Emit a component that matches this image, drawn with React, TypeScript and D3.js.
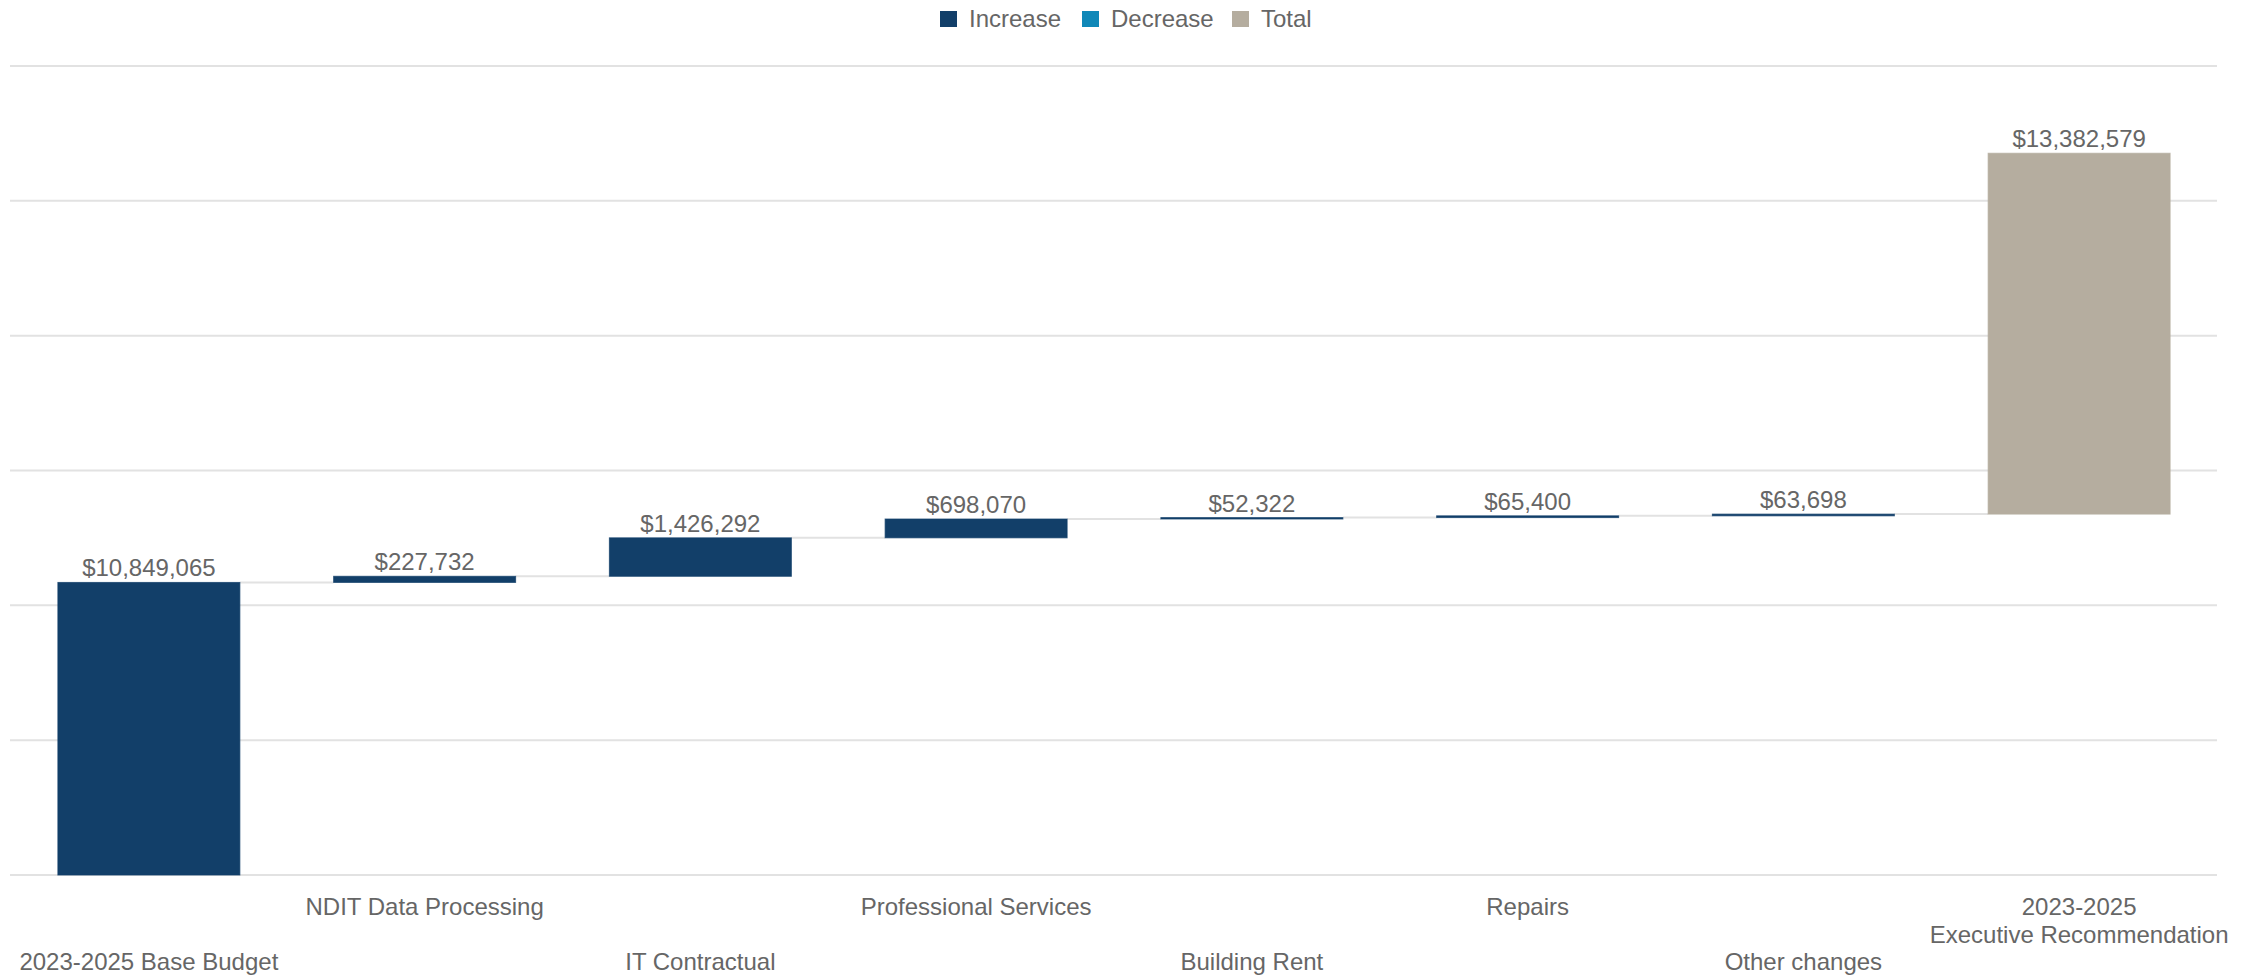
import React from "react";
import * as d3 from "d3";

const categories = [
  "2023-2025 Base Budget",
  "NDIT Data Processing",
  "IT Contractual",
  "Professional Services",
  "Building Rent",
  "Repairs",
  "Other changes",
  "2023-2025\nExecutive Recommendation",
];
const values = [10849065, 227732, 1426292, 698070, 52322, 65400, 63698, 13382579];
const kinds = ["increase", "increase", "increase", "increase", "increase", "increase", "increase", "total"];
const yTicks = [0, 5000000, 10000000, 15000000, 20000000, 25000000, 30000000];
const legendItems = ["Increase", "Decrease", "Total"];

const COLORS: Record<string, string> = {
  increase: "#123f69",
  decrease: "#1088b8",
  total: "#b5ad9f",
};
const legendColors = [COLORS.increase, COLORS.decrease, COLORS.total];

const W = 2262;
const H = 977;
const FONT = "'Liberation Sans', Arial, sans-serif";
const TEXT = "#666666";

export default function App() {
  const x = d3
    .scaleBand<string>()
    .domain(categories)
    .range([11, 2217])
    .paddingInner(0.34)
    .paddingOuter(0.17);
  const y = d3.scaleLinear().domain([0, 30000000]).range([875, 66]);
  const fmt = (v: number) => "$" + d3.format(",")(v);

  let cum = 0;
  const bars = categories.map((c, i) => {
    const start = cum;
    const end = cum + values[i];
    cum = end;
    return { c, i, start, end, v: values[i], kind: kinds[i] };
  });

  const legendX = [940, 1082, 1232];

  return (
    <svg
      width={W}
      height={H}
      style={{ position: "absolute", left: 0, top: 0, background: "#fff" }}
      fontFamily={FONT}
    >
      {yTicks.map((t) => (
        <line key={t} x1={10} x2={2217} y1={y(t)} y2={y(t)} stroke="#e2e2e2" strokeWidth={2} />
      ))}
      {bars.slice(0, -1).map((b) => {
        const next = categories[b.i + 1];
        return (
          <line
            key={"c" + b.i}
            x1={(x(b.c) as number) + x.bandwidth()}
            x2={x(next) as number}
            y1={y(b.end)}
            y2={y(b.end)}
            stroke="#e2e2e2"
            strokeWidth={2}
          />
        );
      })}
      {bars.map((b) => {
        const y0 = y(b.start);
        const y1 = y(b.end);
        return (
          <g key={"b" + b.i}>
            <rect
              x={x(b.c)}
              y={Math.min(y0, y1)}
              width={x.bandwidth()}
              height={Math.max(Math.abs(y0 - y1), 1)}
              fill={COLORS[b.kind]}
              stroke={COLORS[b.kind]}
              strokeOpacity={0.75}
              strokeWidth={1}
            />
            <text
              x={(x(b.c) as number) + x.bandwidth() / 2}
              y={Math.min(y0, y1) - 6}
              textAnchor="middle"
              fontSize={24}
              fill={TEXT}
            >
              {fmt(b.v)}
            </text>
          </g>
        );
      })}
      {categories.map((c, i) => {
        const cx = (x(c) as number) + x.bandwidth() / 2;
        const lines = c.split("\n");
        if (lines.length > 1) {
          return (
            <text key={"l" + i} x={cx} textAnchor="middle" fontSize={24} fill={TEXT}>
              <tspan x={cx} y={915}>{lines[0]}</tspan>
              <tspan x={cx} y={943}>{lines[1]}</tspan>
            </text>
          );
        }
        return (
          <text key={"l" + i} x={cx} y={i % 2 === 1 ? 915 : 970} textAnchor="middle" fontSize={24} fill={TEXT}>
            {c}
          </text>
        );
      })}
      {legendItems.map((l, i) => (
        <g key={"lg" + i}>
          <rect x={legendX[i]} y={11} width={17} height={16} fill={legendColors[i]} />
          <text x={legendX[i] + 29} y={27} fontSize={24} fill={TEXT}>
            {l}
          </text>
        </g>
      ))}
    </svg>
  );
}
